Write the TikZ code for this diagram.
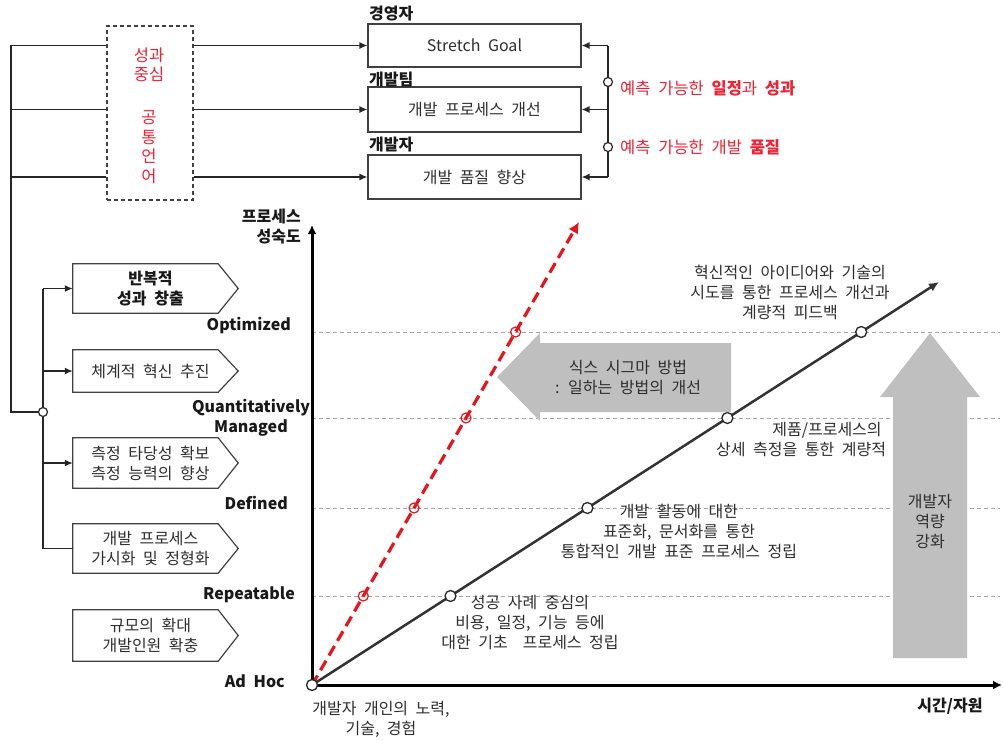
\documentclass[tikz,border=0pt]{standalone}
\usepackage{fontspec}
\setmainfont{Noto Sans CJK KR}[WordSpace=2.1]
\usetikzlibrary{arrows.meta}
\definecolor{txt}{HTML}{2E2E2E}
\definecolor{myred}{HTML}{EE2233}
\definecolor{dred}{HTML}{E8141B}
\definecolor{gfill}{HTML}{BFBFBF}
\definecolor{gline}{HTML}{A6A6A6}
\begin{document}
\begin{tikzpicture}[x=1pt,y=-1pt,
  lbl/.style={font=\fontsize{16}{20}\selectfont\bfseries, text=black!90, inner sep=0, align=center},
  tx/.style={font=\fontsize{16}{20}\selectfont, text=txt, inner sep=0, align=center},
  redtx/.style={font=\fontsize{16.5}{19.5}\selectfont, text=myred, inner sep=0, align=center},
  box/.style={tx, draw=black!75, line width=1.2pt, minimum width=213pt},
  pent/.style={tx, minimum width=155pt},
  pentline/.style={draw=black!75, line width=1.2pt},
  conn/.style={line width=1.3pt, draw=black!85},
  arr/.style={conn, -{Latex[length=8pt,width=7pt]}},
  circ/.style={circle, draw=black!85, line width=1.2pt, fill=white, inner sep=0, minimum size=9pt},
  gdash/.style={draw=gline, line width=0.9pt, dash pattern=on 4pt off 3pt},
  axis/.style={line width=3pt, draw=black, -{Latex[length=9pt,width=9pt]}},
  diag/.style={line width=2.5pt, draw=black!80, -{Latex[length=10pt,width=9pt]}},
  reddash/.style={line width=3.2pt, draw=dred, dash pattern=on 11pt off 6pt, -{Latex[length=11pt,width=11pt]}},
  dcirc/.style={circle, draw=black!85, line width=1.3pt, fill=white, inner sep=0, minimum size=11pt},
  rcirc/.style={circle, draw=dred, line width=1.2pt, inner sep=0, minimum size=10pt}
]
\useasboundingbox (0,0) rectangle (1003,740);

% ---------- top part ----------
\node[box, minimum height=43pt] (sg) at (474.5,45.5) {Stretch Goal};
\node[box, minimum height=45pt] (dp) at (474.5,109.5) {개발 프로세스 개선};
\node[box, minimum height=44pt] (dq) at (474.5,177) {개발 품질 향상};
\node[lbl, anchor=west] (l1) at (369,14) {경영자};
\node[lbl, anchor=west] (l2) at (369,79) {개발팀};
\node[lbl, anchor=west] (l3) at (369,145) {개발자};

\node[draw=black!75, line width=1.2pt, dash pattern=on 4pt off 3pt, minimum width=86pt, minimum height=174pt, inner sep=0] (db) at (150,113) {};
\node[redtx] (rt1) at (149,65) {성과\\중심};
\node[redtx] (rt2) at (149,147) {공\\통\\언\\어};

\coordinate (lt) at (11,45.5);
\coordinate (lcc) at (43,412);
\coordinate (lb) at (11,412);
\draw[conn] (lcc) -- (lb) -- (lt) -- (db.west |- sg.west);
\draw[conn] (lb |- dp.west) -- (db.west |- dp.west);
\draw[conn] (lb |- dq.west) -- (db.west |- dq.west);
\draw[arr] (db.east |- sg.west) -- (sg.west);
\draw[arr] (db.east |- dp.west) -- (dp.west);
\draw[arr] (db.east |- dq.west) -- (dq.west);

\coordinate (rt) at (608,45.5);
\coordinate (rb) at (608,177);
\draw[conn] (rt) -- (rb);
\draw[arr] (rt) -- (sg.east);
\draw[arr] (rt |- dp.east) -- (dp.east);
\draw[arr] (rb) -- (dq.east);
\node[circ] (rc1) at (608,82) {};
\node[circ] (rc2) at (608,147) {};
\node[redtx, anchor=west] (rl1) at (620,88) {예측 가능한 \textbf{일정}과 \textbf{성과}};
\node[redtx, anchor=west] (rl2) at (620,147) {예측 가능한 개발 \textbf{품질}};

% ---------- left pentagons ----------
\node[pent, minimum height=49pt, font=\fontsize{16}{20}\selectfont\bfseries, text=black!90] (p1) at (150.5,288.5) {반복적\\성과 창출};
\node[pent, minimum height=42pt] (p2) at (150.5,371) {체계적 혁신 추진};
\node[pent, minimum height=50pt] (p3) at (150.5,463) {측정 타당성 확보\\측정 능력의 향상};
\node[pent, minimum height=49pt] (p4) at (150.5,548.5) {개발 프로세스\\가시화 및 정형화};
\node[pent, minimum height=51pt] (p5) at (150.5,635.5) {규모의 확대\\개발인원 확충};
\foreach \p in {p1,p2,p3,p4,p5}
  \draw[pentline] (\p.north west) -- ([xshift=-10pt]\p.north east) -- ([xshift=10pt]\p.east) -- ([xshift=-10pt]\p.south east) -- (\p.south west) -- cycle;

\draw[conn] (lcc |- p1.west) -- (lcc |- p4.west) -- (p4.west);
\draw[arr] (lcc |- p1.west) -- (p1.west);
\draw[arr] (lcc |- p2.west) -- (p2.west);
\draw[arr] (lcc |- p3.west) -- (p3.west);
\node[circ] (lc) at (lcc) {};

% ---------- level labels ----------
\node[lbl, anchor=east] (lvO) at (291,325) {Optimized};
\node[lbl] (lvQ) at (251,418) {Quantitatively\\Managed};
\node[lbl, anchor=east] (lvD) at (288,503) {Defined};
\node[lbl, anchor=east] (lvR) at (295,595) {Repeatable};
\node[lbl, anchor=east] (lvA) at (285,681) {Ad Hoc};
\node[lbl, align=right, anchor=east] (yl) at (301,227) {프로세스\\성숙도};
\node[lbl] (xl) at (950,706) {시간/자원};

% ---------- graph ----------
\coordinate (O) at (312,685);
\coordinate (ytop) at (312,225);
\coordinate (xend) at (1002,685);
\foreach \yy in {332,418,508,596}
  \draw[gdash] (312,\yy) -- (1000,\yy);

\node[tx] (a1) at (790,292) {혁신적인 아이디어와 기술의\\시도를 통한 프로세스 개선과\\계량적 피드백};
\node[tx] (a2a) at (827,430) {제품/프로세스의};
\node[tx, anchor=west] (a2b) at (716,449) {상세 측정을 통한 계량적};
\node[tx] (a3) at (679,531) {개발 활동에 대한\\표준화, 문서화를 통한\\통합적인 개발 표준 프로세스 정립};
\node[tx] (a4) at (530,622) {성공 사례 중심의\\비용, 일정, 기능 등에\\대한 기초 \ 프로세스 정립};
\node[tx] (a5) at (381,719) {개발자 개인의 노력,\\기술, 경험};

\coordinate (rE) at (579,222);
\draw[reddash] (O) -- (rE);
\foreach \xx/\yy in {363.3/596, 414.1/508, 466/418, 515.6/332}
  \node[rcirc] at (\xx,\yy) {};

\coordinate (dE) at (939,282);
\draw[diag] (O) -- (dE);
\node[dcirc] (d1) at (450.5,596) {};
\node[dcirc] (d2) at (587.4,508) {};
\node[dcirc] (d3) at (727.4,418) {};
\node[dcirc] (d4) at (861.2,332) {};

% gray arrows
\fill[gfill] (497,377) -- (540,333) -- (540,343) -- (731,343) -- (731,412) -- (540,412) -- (540,421) -- cycle;
\node[tx] (g1) at (628,377.5) {식스 시그마 방법\\: 일하는 방법의 개선};
\fill[gfill] (930,333) -- (980,397) -- (967,397) -- (967,658) -- (893,658) -- (893,397) -- (880,397) -- cycle;
\node[tx] (g2) at (930,521) {개발자\\역량\\강화};

\draw[axis] (O) -- (ytop);
\draw[axis] (O) -- (xend);
\node[dcirc] (o) at (O) {};
\end{tikzpicture}
\end{document}
